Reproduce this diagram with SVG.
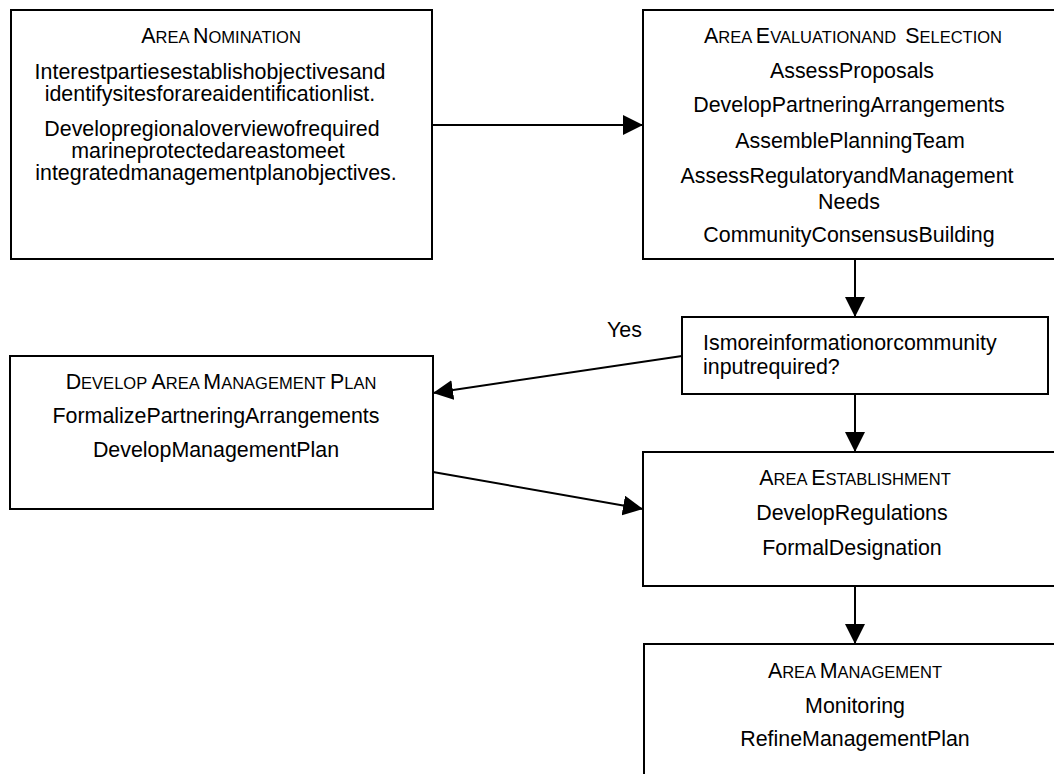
<svg xmlns="http://www.w3.org/2000/svg" width="1054" height="774" viewBox="0 0 1054 774">
<style>
.box{fill:#fff;stroke:#000;stroke-width:2}
.t{font-family:"Liberation Sans",Arial,sans-serif;font-size:21.4px;fill:#000}
.c{text-anchor:middle}
.sc{font-size:16.5px}
.edge{stroke:#000;stroke-width:2;fill:none;marker-end:url(#arr)}
</style>
<defs>
<marker id="arr" markerUnits="userSpaceOnUse" markerWidth="20" markerHeight="20" refX="20" refY="10" orient="auto">
<path d="M0,0 L20,10 L0,20 z" fill="#000"/>
</marker>
</defs>
<rect width="1054" height="774" fill="#fff"/>
<g id="nomination">
<rect class="box" x="11" y="10" width="421" height="249"/>
<text class="t c" x="221" y="43">A<tspan class="sc">REA </tspan>N<tspan class="sc">OMINATION</tspan></text>
<text class="t c" x="210" y="79">Interestpartiesestablishobjectivesand</text>
<text class="t c" x="210" y="101">identifysitesforareaidentificationlist.</text>
<text class="t c" x="212" y="136">Developregionaloverviewofrequired</text>
<text class="t c" x="208" y="158">marineprotectedareastomeet</text>
<text class="t c" x="216" y="180">integratedmanagementplanobjectives.</text>
</g>
<g id="evaluation">
<rect class="box" x="643" y="10" width="430" height="249"/>
<text class="t c" x="853" y="43" xml:space="preserve">A<tspan class="sc">REA </tspan>E<tspan class="sc">VALUATIONAND  </tspan>S<tspan class="sc">ELECTION</tspan></text>
<text class="t c" x="852" y="78">AssessProposals</text>
<text class="t c" x="849" y="112">DevelopPartneringArrangements</text>
<text class="t c" x="850" y="148">AssemblePlanningTeam</text>
<text class="t c" x="847" y="183">AssessRegulatoryandManagement</text>
<text class="t c" x="849" y="209">Needs</text>
<text class="t c" x="849" y="242">CommunityConsensusBuilding</text>
</g>
<g id="decision">
<rect class="box" x="682" y="317" width="366" height="77"/>
<text class="t" x="703" y="350">Ismoreinformationorcommunity</text>
<text class="t" x="703" y="374">inputrequired?</text>
</g>
<g id="develop-plan">
<rect class="box" x="10" y="356" width="423" height="153"/>
<text class="t c" x="221" y="389">D<tspan class="sc">EVELOP </tspan>A<tspan class="sc">REA </tspan>M<tspan class="sc">ANAGEMENT </tspan>P<tspan class="sc">LAN</tspan></text>
<text class="t c" x="216" y="423">FormalizePartneringArrangements</text>
<text class="t c" x="216" y="457">DevelopManagementPlan</text>
</g>
<g id="establishment">
<rect class="box" x="643" y="452" width="430" height="134"/>
<text class="t c" x="855" y="485">A<tspan class="sc">REA </tspan>E<tspan class="sc">STABLISHMENT</tspan></text>
<text class="t c" x="852" y="520">DevelopRegulations</text>
<text class="t c" x="852" y="555">FormalDesignation</text>
</g>
<g id="management">
<rect class="box" x="644" y="644" width="430" height="200"/>
<text class="t c" x="855" y="678">A<tspan class="sc">REA </tspan>M<tspan class="sc">ANAGEMENT</tspan></text>
<text class="t c" x="855" y="713">Monitoring</text>
<text class="t c" x="855" y="746">RefineManagementPlan</text>
</g>
<g id="connectors">
<line class="edge" x1="432" y1="125" x2="643" y2="125"/>
<line class="edge" x1="855" y1="259" x2="855" y2="317"/>
<line class="edge" x1="682" y1="356" x2="433" y2="393"/>
<line class="edge" x1="433" y1="472" x2="643" y2="509"/>
<line class="edge" x1="855" y1="394" x2="855" y2="452"/>
<line class="edge" x1="855" y1="586" x2="855" y2="644"/>
<text class="t" x="607" y="337">Yes</text>
</g>
</svg>
